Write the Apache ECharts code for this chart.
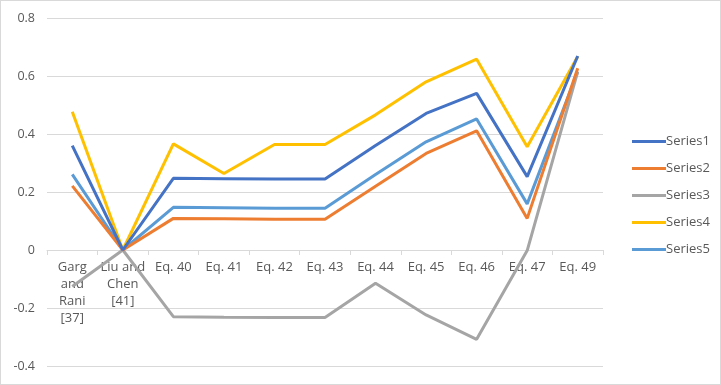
<!DOCTYPE html>
<html>
<head>
<meta charset="utf-8">
<script src="https://cdn.jsdelivr.net/npm/echarts@6/dist/echarts.min.js"></script>
<style>
html, body { margin: 0; padding: 0; background: #fff; }
#main { width: 719px; height: 383px; border: 1px solid #d9d9d9; }
</style>
</head>
<body>
<div id="main"></div>
<script>
var categories = ['Garg\nand\nRani\n[37]', 'Liu and\nChen\n[41]', 'Eq. 40', 'Eq. 41', 'Eq. 42', 'Eq. 43', 'Eq. 44', 'Eq. 45', 'Eq. 46', 'Eq. 47', 'Eq. 49'];
var series1 = [0.36, 0.0, 0.247, 0.246, 0.245, 0.245, 0.36, 0.471, 0.54, 0.253, 0.669];
var series2 = [0.221, 0.0, 0.109, 0.108, 0.106, 0.106, 0.22, 0.333, 0.411, 0.109, 0.627];
var series3 = [-0.126, 0.0, -0.23, -0.232, -0.233, -0.233, -0.115, -0.224, -0.308, -0.002, 0.615];
var series4 = [0.477, 0.0, 0.366, 0.264, 0.364, 0.364, 0.466, 0.58, 0.658, 0.356, 0.667];
var series5 = [0.261, 0.0, 0.147, 0.146, 0.144, 0.144, 0.26, 0.373, 0.452, 0.159, 0.615];
var names = ['Series1', 'Series2', 'Series3', 'Series4', 'Series5'];
var colors = ['#4472C4', '#ED7D31', '#A5A5A5', '#FFC000', '#5B9BD5'];
var yMin = -0.4, yMax = 0.8;

var myChart = echarts.init(document.getElementById('main'));
var allData = [series1, series2, series3, series4, series5];
var seriesList = allData.map(function (d, i) {
    return {
        name: names[i],
        type: 'line',
        data: d,
        showSymbol: false,
        symbol: 'none',
        lineStyle: { width: 3, color: colors[i] },
        itemStyle: { color: colors[i] },
        z: 10 - i
    };
});

// grid geometry, used to lift the category axis up to y = 0
var gridTop = 17, gridBottom = 18, chartH = 383;
var plotH = chartH - gridTop - gridBottom;
var zeroLift = plotH * (0 - yMin) / (yMax - yMin);

var option = {
    animation: false,
    textStyle: { fontFamily: 'Open Sans' },
    grid: { left: 46, right: 117, top: gridTop, bottom: gridBottom, outerBoundsMode: 'none', containLabel: false },
    legend: {
        orient: 'vertical',
        left: 626,
        top: 129,
        itemWidth: 34,
        itemHeight: 3,
        itemGap: 14,
        icon: 'rect',
        textStyle: { color: '#595959', fontSize: 13, padding: [0, 0, 0, -5] },
        data: names
    },
    xAxis: {
        type: 'category',
        data: categories,
        boundaryGap: true,
        offset: -zeroLift,
        axisLine: { onZero: false, lineStyle: { color: '#d9d9d9', width: 1 } },
        axisTick: { show: true, length: 5, lineStyle: { color: '#d9d9d9' } },
        axisLabel: { color: '#595959', fontSize: 13, interval: 0, lineHeight: 17, margin: 9 }
    },
    yAxis: {
        type: 'value',
        min: yMin,
        max: yMax,
        interval: 0.2,
        axisLine: { show: false },
        axisTick: { show: false },
        splitLine: { lineStyle: { color: '#d9d9d9' } },
        axisLabel: { color: '#595959', fontSize: 12.5, margin: 12,
            formatter: function (v) { return String(Math.round(v * 10) / 10); } }
    },
    series: seriesList
};
myChart.setOption(option);
</script>
</body>
</html>
